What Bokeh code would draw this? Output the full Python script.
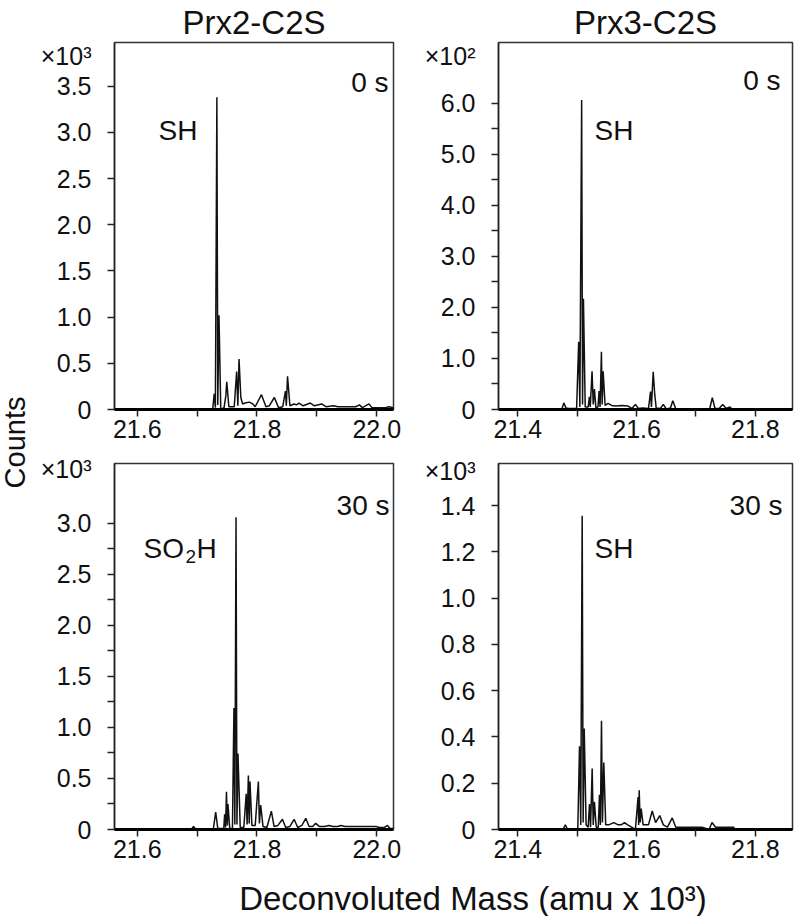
import numpy as np
from bokeh.plotting import figure
from bokeh.models import Label, FixedTicker, CustomJSTickFormatter, Range1d, Title
from bokeh.layouts import row, column
from bokeh.embed import file_html
from bokeh.resources import INLINE

FONT = "Liberation Sans"
INK = "#111111"

# ---------------- data (mass in amu x 10^3, counts in axis units) ----------------
titles = ["Prx2-C2S", "Prx3-C2S"]
times = ["0 s", "30 s"]

# Prx2-C2S, 0 s  (counts x 10^3)
prx2_0s_mass = [21.562, 21.7260, 21.7285, 21.7305, 21.7330, 21.7345, 21.7365, 21.7395,
                21.7450, 21.7480, 21.7495, 21.7530, 21.7620, 21.7660, 21.7680, 21.7700,
                21.7730, 21.7760, 21.7800, 21.7870, 21.7930, 21.7970, 21.8075, 21.8150,
                21.8205, 21.8290, 21.8360, 21.8430, 21.8475, 21.8490, 21.8510, 21.8550,
                21.8620, 21.8660, 21.8700, 21.8770, 21.8890, 21.8960, 21.9080, 21.9150,
                21.9280, 21.9350, 21.9650, 21.9710, 21.9760, 21.9870, 21.9920, 22.0150,
                22.0200, 22.0280]
prx2_0s_counts = [0.0, 0.0, 0.17, 0.02, 3.38, 0.05, 1.02, 0.0,
                  0.02, 0.15, 0.30, 0.03, 0.03, 0.41, 0.04, 0.545,
                  0.13, 0.06, 0.07, 0.08, 0.06, 0.03, 0.16, 0.03,
                  0.04, 0.13, 0.02, 0.03, 0.20, 0.04, 0.36, 0.04,
                  0.06, 0.05, 0.07, 0.04, 0.07, 0.04, 0.06, 0.03,
                  0.04, 0.03, 0.03, 0.05, 0.02, 0.06, 0.02, 0.02,
                  0.03, 0.02]

# Prx3-C2S, 0 s  (counts x 10^2)
prx3_0s_mass = [21.3675, 21.4740, 21.4775, 21.4810, 21.4860, 21.4990, 21.5025, 21.5045,
                21.5075, 21.5090, 21.5105, 21.5135, 21.5185, 21.5205, 21.5220, 21.5250,
                21.5270, 21.5290, 21.5315, 21.5350, 21.5368, 21.5385, 21.5408, 21.5420,
                21.5437, 21.5470, 21.5520, 21.5580, 21.5650, 21.5750, 21.5850, 21.5920,
                21.5980, 21.6030, 21.6100, 21.6200, 21.6235, 21.6250, 21.6280, 21.6305,
                21.6330, 21.6400, 21.6450, 21.6500, 21.6570, 21.6610, 21.6660, 21.7230,
                21.7275, 21.7320, 21.7390, 21.7450, 21.7510, 21.7570, 21.7620, 21.8625]
prx3_0s_counts = [0.0, 0.0, 0.13, 0.03, 0.02, 0.02, 1.33, 0.05,
                  6.07, 0.10, 2.17, 0.05, 0.05, 0.25, 0.05, 0.75,
                  0.10, 0.40, 0.03, 0.05, 0.36, 0.05, 1.13, 0.10,
                  0.75, 0.08, 0.12, 0.08, 0.07, 0.08, 0.07, 0.02,
                  0.10, 0.02, 0.03, 0.02, 0.35, 0.05, 0.74, 0.30,
                  0.03, 0.02, 0.10, 0.01, 0.03, 0.17, 0.01, 0.01,
                  0.23, 0.02, 0.02, 0.10, 0.02, 0.05, 0.0, 0.0]

# Prx2-C2S, 30 s  (counts x 10^3)
prx2_30s_mass = [21.562, 21.6900, 21.6940, 21.6980, 21.7270, 21.7310, 21.7345, 21.7445,
                 21.7460, 21.7475, 21.7490, 21.7505, 21.7515, 21.7545, 21.7590, 21.7615,
                 21.7630, 21.7650, 21.7665, 21.7682, 21.7720, 21.7780, 21.7820, 21.7835,
                 21.7856, 21.7870, 21.7883, 21.7915, 21.7970, 21.8023, 21.8040, 21.8062,
                 21.8100, 21.8165, 21.8240, 21.8285, 21.8350, 21.8425, 21.8480, 21.8550,
                 21.8620, 21.8680, 21.8750, 21.8815, 21.8870, 21.8930, 21.8980, 21.9040,
                 21.9130, 21.9200, 21.9270, 21.9350, 21.9400, 21.9470, 21.9900, 21.9985,
                 22.0050, 22.0130, 22.0180, 22.0220, 22.0280]
prx2_30s_counts = [0.0, 0.0, 0.03, 0.0, 0.0, 0.17, 0.01, 0.01,
                   0.15, 0.02, 0.37, 0.04, 0.25, 0.01, 0.01, 1.19,
                   0.05, 3.06, 0.05, 0.745, 0.02, 0.02, 0.35, 0.05,
                   0.53, 0.06, 0.47, 0.04, 0.04, 0.47, 0.06, 0.24,
                   0.03, 0.02, 0.18, 0.03, 0.04, 0.10, 0.02, 0.03,
                   0.10, 0.02, 0.04, 0.11, 0.03, 0.03, 0.06, 0.03,
                   0.03, 0.04, 0.03, 0.03, 0.04, 0.03, 0.03, 0.03,
                   0.02, 0.02, 0.04, 0.01, 0.01]

# Prx3-C2S, 30 s  (counts x 10^3)
prx3_30s_mass = [21.3675, 21.4760, 21.4800, 21.4840, 21.5010, 21.5039, 21.5060, 21.5084,
                 21.5100, 21.5118, 21.5150, 21.5185, 21.5207, 21.5225, 21.5252, 21.5270,
                 21.5290, 21.5320, 21.5355, 21.5375, 21.5390, 21.5409, 21.5425, 21.5448,
                 21.5480, 21.5530, 21.5616, 21.5690, 21.5740, 21.5796, 21.5850, 21.5980,
                 21.6025, 21.6035, 21.6044, 21.6060, 21.6077, 21.6110, 21.6200, 21.6263,
                 21.6320, 21.6390, 21.6450, 21.6520, 21.6600, 21.6660, 21.6770, 21.6900,
                 21.7020, 21.7100, 21.7220, 21.7270, 21.7330, 21.7636, 21.7645, 21.8625]
prx3_30s_counts = [0.0, 0.0, 0.02, 0.0, 0.0, 0.36, 0.02, 1.356,
                   0.03, 0.436, 0.02, 0.01, 0.11, 0.01, 0.264, 0.02,
                   0.12, 0.01, 0.01, 0.15, 0.02, 0.47, 0.03, 0.29,
                   0.02, 0.02, 0.03, 0.02, 0.02, 0.03, 0.02, 0.0,
                   0.14, 0.02, 0.17, 0.03, 0.09, 0.02, 0.02, 0.08,
                   0.03, 0.06, 0.02, 0.01, 0.05, 0.01, 0.01, 0.01,
                   0.01, 0.01, 0.0, 0.03, 0.01, 0.01, 0.0, 0.0]

# axis ticks
prx2_x_major = [21.6, 21.8, 22.0]
prx2_x_minor = [21.7, 21.9]
prx3_x_major = [21.4, 21.6, 21.8]
prx3_x_minor = [21.5, 21.7]
tl_y_major = [0, 0.5, 1.0, 1.5, 2.0, 2.5, 3.0, 3.5]
tl_y_minor = []
tr_y_major = [0, 1.0, 2.0, 3.0, 4.0, 5.0, 6.0]
tr_y_minor = [0.5, 1.5, 2.5, 3.5, 4.5, 5.5]
bl_y_major = [0, 0.5, 1.0, 1.5, 2.0, 2.5, 3.0]
bl_y_minor = [0.25, 0.75, 1.25, 1.75, 2.25, 2.75]
br_y_major = [0, 0.2, 0.4, 0.6, 0.8, 1.0, 1.2, 1.4]
br_y_minor = []
multipliers = ["\u00d710\u00b3", "\u00d710\u00b2", "\u00d710\u00b3", "\u00d710\u00b3"]
# axis value at which each multiplier sits (top-left corner of each panel)
multiplier_at = [3.83, 6.94, 3.53, 1.549]
peak_labels = ["SH", "SH", "SO2H", "SH"]
x_title = "Deconvoluted Mass (amu x 10\u00b3)"
y_title = "Counts"

X_FMT = CustomJSTickFormatter(code="return tick.toFixed(1);")


def make_panel(mass, counts, xr, yr, fw, fh, bl, br, bt, bb,
               xmaj, xmin, ymaj, ymin, mult_at, mult_text, title=None):
    p = figure(frame_width=fw, frame_height=fh,
               min_border_left=bl, min_border_right=br,
               min_border_top=bt, min_border_bottom=bb,
               x_range=Range1d(*xr), y_range=Range1d(*yr),
               output_backend="svg", toolbar_location=None,
               background_fill_color="white", border_fill_color="white")
    if title:
        p.title.text = title
        p.title.align = "center"
        p.title.text_font = FONT
        p.title.text_font_size = "33px"
        p.title.text_font_style = "normal"
        p.title.text_color = INK
        p.title.standoff = 3
    p.xgrid.visible = False
    p.ygrid.visible = False
    p.outline_line_color = "#333333"
    p.outline_line_width = 1.5
    p.line(mass, counts, line_color=INK, line_width=1.5)

    xa = p.xaxis[0]
    xa.ticker = FixedTicker(ticks=xmaj, minor_ticks=xmin)
    xa.formatter = X_FMT
    xa.axis_line_width = 3
    xa.axis_line_color = "#000000"
    xa.major_label_standoff = 3
    xa.major_tick_in = 0
    xa.major_tick_out = 7

    ya = p.yaxis[0]
    # labels on majors (+ the multiplier); tick marks drawn as minor ticks
    ya.ticker = FixedTicker(ticks=list(ymaj) + [mult_at], minor_ticks=list(ymaj) + list(ymin))
    ya.formatter = CustomJSTickFormatter(
        args=dict(top=mult_at, lab=mult_text),
        code="if (Math.abs(tick - top) < 1e-6) return lab;"
             "return tick == 0 ? '0' : tick.toFixed(1);")
    ya.axis_line_width = 1.5
    ya.axis_line_color = "#222222"
    ya.major_tick_in = 0
    ya.major_tick_out = 0
    ya.major_label_standoff = 16

    for ax in (xa, ya):
        ax.minor_tick_in = 0
        ax.minor_tick_out = 7
        ax.major_tick_line_color = "#222222"
        ax.minor_tick_line_color = "#222222"
        ax.major_tick_line_width = 1.5
        ax.minor_tick_line_width = 1.5
        ax.major_label_text_font = FONT
        ax.major_label_text_font_size = "25px"
        ax.major_label_text_color = INK
    p._frame = (xr, yr, fw, fh)
    return p


def text(p, rx, ry, s, size, align="left"):
    """rx, ry: pixel offsets from the frame's bottom-left corner, converted to data units."""
    xr, yr, fw, fh = p._frame
    x = xr[0] + (xr[1] - xr[0]) * rx / fw
    y = yr[0] + (yr[1] - yr[0]) * ry / fh
    p.add_layout(Label(x=x, y=y, text=s, text_font=FONT, text_font_size=f"{size}px",
                       text_align=align, text_baseline="alphabetic", text_color=INK))


def blank(w, h, **kw):
    f = figure(frame_width=w, frame_height=h, x_range=Range1d(0, w), y_range=Range1d(0, h),
               x_axis_type=None, y_axis_type=None,
               outline_line_color=None, toolbar_location=None, output_backend="svg",
               background_fill_color="white", border_fill_color="white", **kw)
    f.xgrid.visible = False
    f.ygrid.visible = False
    return f


# ---------------- panels ----------------
tl = make_panel(prx2_0s_mass, prx2_0s_counts, (21.562, 22.028), (0, 3.972),
                279, 367, 78, 13, 42, 41, prx2_x_major, prx2_x_minor, tl_y_major, tl_y_minor,
                multiplier_at[0], multipliers[0], titles[0])
tr = make_panel(prx3_0s_mass, prx3_0s_counts, (21.3675, 21.8625), (0, 7.196),
                294, 367, 92, 8, 42, 41, prx3_x_major, prx3_x_minor, tr_y_major, tr_y_minor,
                multiplier_at[1], multipliers[1], titles[1])
bl = make_panel(prx2_30s_mass, prx2_30s_counts, (21.562, 22.028), (0, 3.588),
                279, 366, 78, 13, 13, 47, prx2_x_major, prx2_x_minor, bl_y_major, bl_y_minor,
                multiplier_at[2], multipliers[2])
br = make_panel(prx3_30s_mass, prx3_30s_counts, (21.3675, 21.8625), (0, 1.582),
                294, 366, 92, 8, 13, 47, prx3_x_major, prx3_x_minor, br_y_major, br_y_minor,
                multiplier_at[3], multipliers[3])

# time stamps
text(tl, 274, 327, times[0], 28, "right")
text(tr, 282, 329, times[0], 28, "right")
text(bl, 275, 324, times[1], 28, "right")
text(br, 284, 324, times[1], 28, "right")

# peak labels
text(tl, 44, 279, peak_labels[0], 28)
text(tr, 96, 279, peak_labels[1], 28)
text(bl, 29, 281, "SO", 28)
text(bl, 71, 273, "2", 19)
text(bl, 82, 281, "H", 28)
text(br, 96, 281, peak_labels[3], 28)

# ---------------- shared axis titles ----------------
H_TOTAL = 914
counts_fig = blank(36, H_TOTAL, min_border=0)
counts_fig.add_layout(Label(x=14, y=H_TOTAL - 442, text=y_title, angle=np.pi / 2,
                            text_font=FONT, text_font_size="29px", text_align="center",
                            text_baseline="middle", text_color=INK))

# x-axis title: a strip whose frame is centred under the reference title position
xlab = blank(655, 1, min_border_left=109, min_border_right=0,
             min_border_top=0, min_border_bottom=0)
xlab.add_layout(Title(text=x_title, align="center", text_font=FONT, text_font_size="33px",
                      text_font_style="normal", text_color=INK, standoff=0), "below")

layout = row(counts_fig, column(row(tl, tr), row(bl, br), xlab))

open("out.html", "w").write(file_html(layout, INLINE))
